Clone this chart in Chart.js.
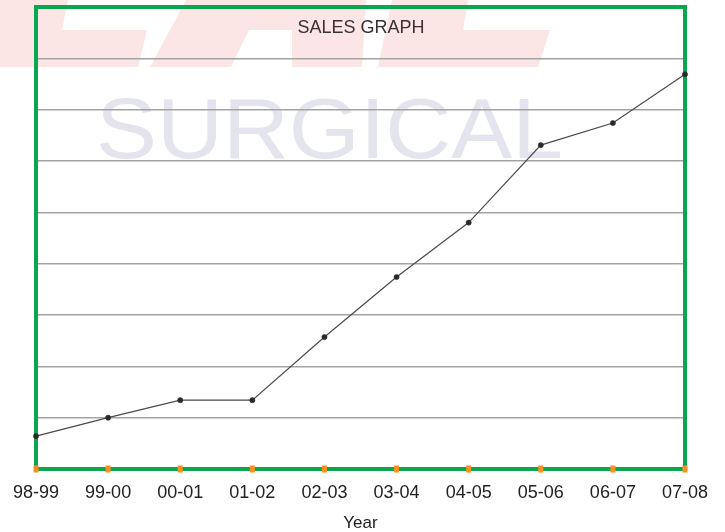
<!DOCTYPE html>
<html>
<head>
<meta charset="utf-8">
<script src="https://cdn.jsdelivr.net/npm/chart.js@4"></script>
<style>
  html, body { margin: 0; padding: 0; background: #fff; }
  #wrap { width: 725px; height: 532px; }
</style>
</head>
<body>
<div id="wrap"><canvas id="sales"></canvas></div>
<script>
// financial years on the x axis
const YEARS = ["98-99", "99-00", "00-01", "01-02", "02-03", "03-04", "04-05", "05-06", "06-07", "07-08"];
// sales, in grid units (no y labels on the original)
const SALES = [0.64, 1.0, 1.34, 1.34, 2.57, 3.74, 4.8, 6.31, 6.74, 7.69];
const Y_MAX = 9;

const TITLE = "SALES GRAPH";
const X_TITLE = "Year";
const WATERMARK = "SURGICAL";

const FONT = "'Liberation Sans', Arial, sans-serif";
const GREEN = "#0aa64f";
const ORANGE = "#f7901e";
const PINK = "#fbe6e5";

// logo shapes + watermark behind everything
const backdrop = {
  id: "backdrop",
  beforeDraw(chart) {
    const ctx = chart.ctx;
    ctx.save();
    ctx.fillStyle = PINK;
    const shapes = [
      [[0, 0], [68, 0], [62, 30], [147, 30], [138, 67], [0, 67]],
      [[150, 67], [186, 0], [366, 0], [362, 67], [292, 67], [292, 30], [249, 30], [231, 67]],
      [[378, 67], [392, 0], [468, 0], [463, 30], [550, 30], [538, 67]],
    ];
    for (const s of shapes) {
      ctx.beginPath();
      ctx.moveTo(s[0][0], s[0][1]);
      for (const p of s.slice(1)) ctx.lineTo(p[0], p[1]);
      ctx.closePath();
      ctx.fill();
    }
    // watermark text, stretched to its width in the picture
    ctx.font = "86px " + FONT;
    ctx.fillStyle = "#e4e4ee";
    ctx.textBaseline = "alphabetic";
    const w = ctx.measureText(WATERMARK).width;
    ctx.translate(96, 158);
    ctx.scale(467 / w, 1);
    ctx.fillText(WATERMARK, 0, 0);
    ctx.restore();

    // title
    ctx.save();
    ctx.font = "18px " + FONT;
    ctx.fillStyle = "#3a3032";
    ctx.textAlign = "center";
    ctx.textBaseline = "alphabetic";
    ctx.fillText(TITLE, 361, 33);
    ctx.restore();
  },
  beforeDatasetsDraw(chart) {
    const a = chart.chartArea;
    const ctx = chart.ctx;
    ctx.save();
    ctx.strokeStyle = GREEN;
    ctx.lineWidth = 4;
    ctx.strokeRect(a.left, a.top, a.right - a.left, a.bottom - a.top);
    ctx.restore();
  },
  afterDraw(chart) {
    // orange tick marks on the bottom edge
    const x = chart.scales.x;
    const ctx = chart.ctx;
    ctx.save();
    ctx.fillStyle = ORANGE;
    YEARS.forEach((_, i) => {
      const px = x.getPixelForValue(i);
      ctx.fillRect(px - 2.5, chart.chartArea.bottom - 3.5, 5, 7);
    });
    ctx.restore();
  },
};

new Chart(document.getElementById("sales"), {
  type: "line",
  data: {
    labels: YEARS,
    datasets: [
      {
        data: SALES,
        borderColor: "#4a4a4a",
        borderWidth: 1.2,
        pointRadius: 2.6,
        pointBackgroundColor: "#2b2b2b",
        pointBorderColor: "#2b2b2b",
        pointBorderWidth: 0.5,
        tension: 0,
        clip: false,
      },
    ],
  },
  options: {
    responsive: true,
    maintainAspectRatio: false,
    animation: false,
    devicePixelRatio: 1,
    layout: { padding: { left: 35, right: 40, top: 7, bottom: 0 } },
    plugins: { legend: { display: false }, tooltip: { enabled: false } },
    scales: {
      x: {
        offset: false,
        grid: { display: false, drawTicks: false },
        border: { display: false },
        ticks: {
          color: "#222",
          font: { family: FONT, size: 18 },
          padding: 13,
          maxRotation: 0,
          autoSkip: false,
        },
        title: {
          display: true,
          text: X_TITLE,
          color: "#222",
          font: { family: FONT, size: 17 },
          padding: { top: 10, bottom: -2 },
        },
        afterFit(scale) { scale.height = 63; },
      },
      y: {
        min: 0,
        max: Y_MAX,
        ticks: { display: false, stepSize: 1 },
        grid: { color: "#a3a3a3", lineWidth: 1.5, drawTicks: false },
        border: { display: false },
        afterFit(scale) { scale.width = 0; },
      },
    },
  },
  plugins: [backdrop],
});
</script>
</body>
</html>
